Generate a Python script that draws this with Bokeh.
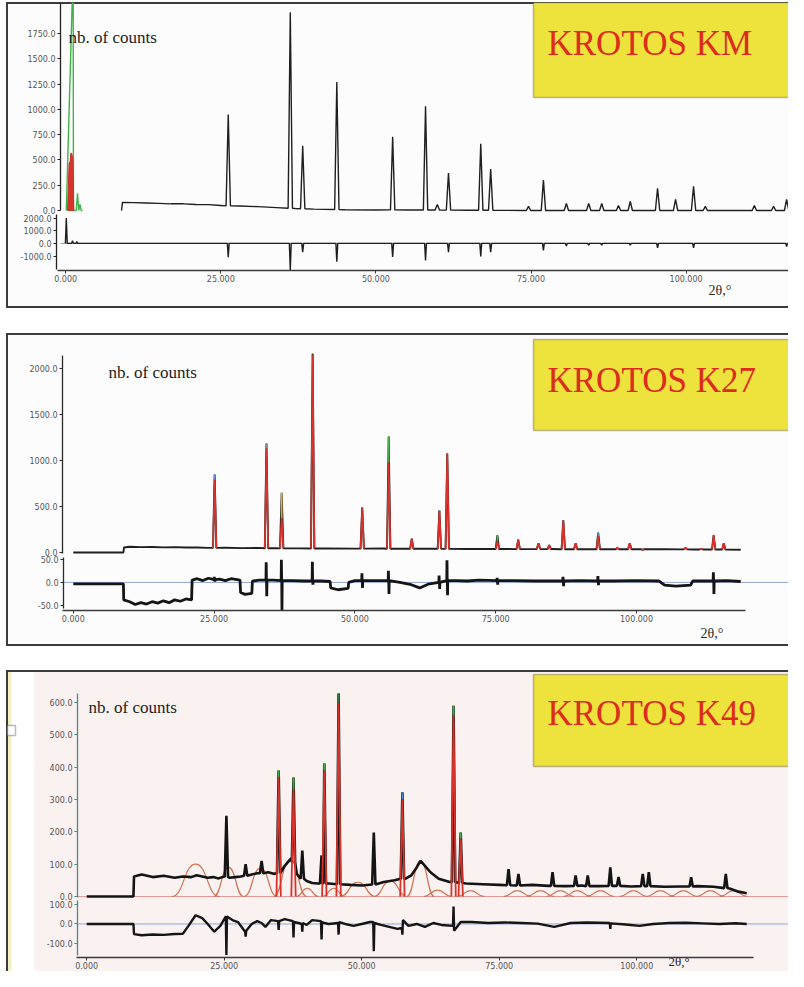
from bokeh.plotting import figure
from bokeh.models import (Range1d, FixedTicker, NumeralTickFormatter, LinearAxis,
                          Label, BoxAnnotation, Spacer)
from bokeh.layouts import column, row
from bokeh.embed import file_html
from bokeh.resources import INLINE

# ---------------- DATA ----------------
# Panel 1 : KROTOS KM
km_bg_2theta = [9.0, 9.15, 11, 13, 15, 17, 19, 21, 23, 25, 28, 31, 34, 37, 40, 45, 50, 55, 65, 75, 85, 95, 105, 112, 118]
km_bg_counts = [0, 80, 78, 74, 70, 66, 66, 60, 58, 50, 45, 38, 28, 20, 14, 8, 5, 5, 3, 0, 0, 0, 0, 0, 0]
km_peak_2theta = [26.2, 36.2, 38.2, 43.7, 52.7, 58.0, 59.9, 61.7, 66.9, 68.5, 74.6, 77.0, 80.7, 84.3,
                  86.4, 89.1, 91.0, 95.4, 98.3, 101.2, 103.1, 111.0, 114.1, 116.2]
km_peak_counts = [950, 1960, 640, 1270, 730, 1030, 60, 370, 660, 410, 40, 300, 70, 70,
                  70, 50, 90, 220, 110, 240, 40, 50, 40, 110]
km_peak_base = [46, 22, 18, 10, 6, 5, 5, 4, 3, 3, 0, 0, 0, 0,
                0, 0, 0, 0, 0, 0, 0, 0, 0, 0]
km_calc_2theta = [0.1, 1.2, 1.25, 1.7, 1.9, 2.1, 2.3, 2.5, 2.7]
km_calc_counts = [0, 2400, 0, 0, 170, 0, 60, 0, 0]
km_red_2theta = [0.3, 0.55, 0.7, 0.85, 1.0, 1.15, 1.3]
km_red_counts = [0, 470, 480, 570, 560, 500, 0]
km_res_base_2theta = [0.0, 118.0]
km_res_base_values = [0, 0]
km_res_2theta = [0.1, 1.1, 1.8, 26.2, 36.2, 38.2, 43.7, 52.7, 58.0, 61.7, 66.9, 68.5, 77.0, 80.7,
                 84.3, 86.4, 91.0, 95.4, 101.2, 116.2]
km_res_values = [2000, 200, 150, -1100, -2100, -700, -1450, -1080, -1350, -690, -1030, -690, -550, -200,
                 -150, -150, -150, -350, -350, -250]
km_yticks = [0, 250, 500, 750, 1000, 1250, 1500, 1750]
km_res_ticks = [2000, 1000, 0, -1000]

# Panel 2 : KROTOS K27
k27_bg_2theta = [0.0, 8.9, 9.0, 10, 12, 14, 16, 18, 20, 22, 24, 27, 30, 33, 36, 40, 45, 50, 55, 60,
                 65, 70, 75, 80, 85, 90, 95, 100, 105, 110, 115, 118.5]
k27_bg_counts = [0, 0, 55, 62, 58, 60, 56, 58, 54, 55, 50, 52, 48, 50, 46, 45, 44, 42, 43, 40,
                 41, 38, 39, 37, 38, 36, 37, 35, 36, 33, 32, 30]
k27_peak_2theta = [25.1, 34.3, 37.0, 42.5, 51.3, 56.0, 60.1, 65.0, 66.4, 75.3, 79.0, 82.6, 84.5,
                   87.0, 89.2, 93.2, 96.6, 98.8, 101.1, 108.7, 111.5, 113.7, 115.5]
k27_obs_counts = [848, 1185, 650, 2160, 490, 1260, 150, 455, 1075, 185, 140, 100, 80,
                  350, 100, 215, 50, 100, 30, 50, 40, 185, 100]
k27_calc_counts = [790, 1130, 370, 2150, 480, 980, 150, 450, 1070, 120, 140, 100, 80,
                   345, 100, 180, 50, 100, 30, 50, 40, 180, 100]
k27_peak_base = [50, 46, 45, 44, 42, 41, 40, 40, 39, 38, 37, 37, 37,
                 36, 36, 36, 36, 35, 35, 34, 33, 32, 31]
k27_res_level_2theta = [0, 8.9, 8.95, 10, 11, 12, 13, 14, 15, 16,
                        17, 18, 19, 20, 21.0, 21.1, 22, 23, 24, 26,
                        27, 28, 29.6, 29.7, 30.5, 31.7, 31.8, 33, 35.5, 39,
                        41, 44, 45.6, 45.7, 47, 48.8, 48.9, 50, 53, 58,
                        60, 61.5, 63, 68, 70, 72, 78, 82, 90, 96,
                        100, 104, 105, 107, 109.6, 110, 116, 118.5]
k27_res_level_values = [-3, -3, -38, -42, -48, -44, -47, -42, -45, -40,
                        -44, -38, -41, -36, -38, 5, 8, 4, 9, 7,
                        4, 8, 5, -22, -26, -24, 3, 5, 5, 4,
                        3, 3, 2, -12, -16, -13, 0, 4, 4, 0,
                        -5, -12, -4, 4, 3, 5, 4, 3, 4, 3,
                        4, 3, -6, -8, -6, 3, 4, 2]
k27_res_spike_2theta = [25.05, 25.15, 34.25, 34.35, 36.95, 37.05, 42.45, 42.55, 51.25, 51.35, 55.95, 56.05,
                        64.95, 65.05, 66.35, 66.45, 75.25, 75.35, 86.95, 87.05, 93.15, 93.25, 113.65, 113.75]
k27_res_spike_values = [12, 2, 44, -30, 49, -60, 45, -5, 20, -12, 25, -25,
                        15, -14, 48, -28, 10, -5, 12, -8, 14, -6, 22, -25]
k27_res_spike_base = [6, 6, 5, 5, 4, 4, 3, 3, 4, 4, 4, 4,
                      0, 0, 4, 4, 4, 4, 3, 3, 3, 3, 3, 3]
k27_yticks = [0, 500, 1000, 1500, 2000]
k27_res_ticks = [50, 0, -50]

# Panel 3 : KROTOS K49
k49_bg_2theta = [0, 8.5, 8.6, 10, 12, 14, 16, 17.5, 19, 20,
                 21, 22, 23, 24, 25, 26, 27, 28, 29, 30,
                 31, 32, 33, 34, 35, 36, 36.8, 37.3, 38.2, 39,
                 40, 41, 42, 44, 46, 48, 50, 52, 54, 56,
                 58, 59, 60, 60.7, 61.5, 62.5, 64, 66, 69, 72,
                 75, 78, 81, 84, 87, 90, 93, 96, 99, 102,
                 105, 108, 111, 114, 116, 117, 118.5, 120]
k49_bg_counts = [0, 0, 62, 68, 60, 64, 58, 62, 60, 66,
                 62, 58, 60, 56, 62, 58, 60, 62, 64, 68,
                 72, 70, 75, 70, 80, 95, 110, 120, 70, 55,
                 48, 42, 40, 40, 38, 36, 34, 38, 45, 50,
                 55, 65, 90, 110, 95, 75, 55, 45, 40, 38,
                 36, 34, 36, 33, 32, 34, 32, 33, 31, 34,
                 30, 31, 32, 30, 28, 24, 15, 10]
k49_peak_2theta = [25.4, 28.9, 31.8, 34.9, 37.6, 39.2, 42.7, 43.2, 45.8, 52.2, 57.4, 66.7,
                   68.0, 76.7, 78.5, 84.7, 88.9, 91.1, 95.2, 96.7, 101.1, 102.2, 109.9, 116.2]
k49_obs_counts = [250, 100, 110, 390, 368, 142, 127, 411, 628, 198, 322, 590,
                  198, 85, 70, 75, 65, 65, 90, 60, 70, 75, 60, 70]
k49_peak_base = [60, 64, 72, 72, 105, 55, 40, 40, 38, 37, 55, 45,
                 42, 35, 34, 33, 33, 32, 33, 33, 32, 32, 31, 26]
k49_calc_2theta = [34.9, 37.6, 43.2, 45.8, 57.4, 66.7, 68.0]
k49_calc_counts = [370, 330, 390, 600, 300, 560, 180]
k49_hump_2theta = [19.8, 25.8, 31.6, 37.0, 40.1, 44.9, 49.3, 55.2, 60.7, 63.8, 69.8,
                   78.3, 82.5, 86.1, 89.2, 93.4, 99.4, 104.3, 108.5, 113.4, 117.6]
k49_hump_counts = [100, 90, 88, 115, 25, 25, 44, 48, 110, 20, 18,
                   18, 18, 18, 18, 18, 18, 18, 18, 18, 18]
k49_hump_halfwidth = [4.3, 2.7, 3.0, 3.0, 2.0, 2.0, 3.2, 3.0, 2.5, 2.5, 2.5,
                      2.5, 2.5, 2.5, 2.5, 2.5, 2.5, 2.5, 2.5, 2.5, 2.5]
k49_res_2theta = [0, 8.5, 8.6, 10, 12, 14, 16, 17.5, 18.5, 19.8,
                  21, 22, 23.2, 24.3, 25.3, 25.4, 25.5, 26.5, 27.5, 28.8,
                  28.9, 29.0, 30, 31, 31.8, 32.5, 33.5, 34.8, 34.9, 35.0,
                  36, 37.5, 37.6, 37.7, 38.5, 39.1, 39.2, 39.3, 40, 41,
                  42.6, 42.7, 42.8, 43.2, 44, 45.7, 45.8, 45.9, 47, 48.5,
                  50, 51.5, 52.1, 52.2, 52.3, 53.5, 55, 56.5, 57.3, 57.4,
                  57.5, 58.5, 60, 61.5, 63, 64.5, 66.6, 66.7, 66.8, 68,
                  70, 73, 76, 79, 82, 85, 88, 91, 95.1, 95.2,
                  95.3, 98, 100.5, 103, 106, 109, 112, 115, 118, 120]
k49_res_values = [0, 0, -52, -58, -54, -56, -52, -50, -10, 45,
                  30, 0, -40, -10, 40, -160, 38, 20, 10, -40,
                  -65, -35, 0, 15, 5, -15, 20, 15, -30, 15,
                  25, 15, -70, 10, 5, 0, -40, 5, -5, 20,
                  15, -80, 10, 5, 0, 5, -55, 10, 0, -10,
                  0, 10, 10, -140, 5, -5, -15, -25, -20, -55,
                  20, -10, 0, -15, 5, -5, -10, 90, -35, 10,
                  10, 5, 8, 5, 2, -15, 5, 8, 5, -25,
                  3, -3, -10, 0, 5, 6, 3, 0, 4, 0]
k49_yticks = [0, 100, 200, 300, 400, 500, 600]
k49_res_ticks = [100, 0, -100]

x_ticks = [0, 25, 50, 75, 100]

# ---------------- STYLES ----------------
FIG_LEFT = 6
FIG_W = 782
RIGHT_EDGE = FIG_LEFT + FIG_W
SERIF = "Liberation Serif"
TICK_FONT = "DejaVu Sans"
BORDER3 = "inset 2px 2px 0 #3c3c3c, inset 0 -2px 0 #3c3c3c"
BORDER2 = "inset 2px 2px 0 #3c3c3c"


def build_profile(base_x, base_y, pk_x, pk_top, pk_base, hw):
    pts = [(x, y) for x, y in zip(base_x, base_y) if all(abs(x - c) > hw for c in pk_x)]
    for c, t, b in zip(pk_x, pk_top, pk_base):
        pts += [(c - hw, b), (c, t), (c + hw, b)]
    pts.sort(key=lambda q: q[0])
    return [q[0] for q in pts], [q[1] for q in pts]


def style_axis(ax, col):
    ax.axis_line_color = col
    ax.axis_line_width = 1.3
    ax.major_tick_line_color = col
    ax.major_tick_in = 0
    ax.major_tick_out = 3
    ax.minor_tick_in = 0
    ax.minor_tick_out = 0
    ax.major_label_text_font = TICK_FONT
    ax.major_label_text_font_size = "8px"
    ax.major_label_text_color = "#555555"
    ax.major_label_standoff = 2


def make_panel(cfg):
    top, H = cfg["fig_top"], cfg["height"]
    x0px, pxdeg, y0px, pxcnt = cfg["x0px"], cfg["pxdeg"], cfg["y0px"], cfg["pxcnt"]
    r0, k = cfg["r0"], cfg["k"]

    def gx(px):
        return (px - x0px) / pxdeg

    def gy(py):
        return (y0px - py) / pxcnt

    def gr(py):
        return (gy(py) - r0) / k

    xs, xe = gx(FIG_LEFT), gx(RIGHT_EDGE)
    ys, ye = gy(top + H), gy(top)
    p = figure(width=FIG_W, height=H, title=None,
               x_range=Range1d(xs, xe), y_range=Range1d(ys, ye),
               output_backend="svg", toolbar_location=None,
               min_border_left=0, min_border_right=0, min_border_top=0, min_border_bottom=0,
               background_fill_alpha=0, border_fill_alpha=0, outline_line_color=None,
               styles=cfg["styles"])
    p.extra_y_ranges = {"res": Range1d(gr(top + H), gr(top))}
    p.grid.visible = False

    # x axis (drawn at its place inside the panel)
    xa = p.xaxis[0]
    xa.fixed_location = gy(cfg["axis_y"])
    xa.ticker = FixedTicker(ticks=x_ticks)
    xa.formatter = NumeralTickFormatter(format="0.000")
    xa.bounds = (gx(cfg["xaxis_start"]), cfg["x_axis_end"])
    style_axis(xa, "#3a3a3a")
    xa.major_label_standoff = 1

    # counts axis
    ya = p.yaxis[0]
    ya.fixed_location = gx(cfg["yaxis_x"])
    ya.ticker = FixedTicker(ticks=cfg["yticks"])
    ya.formatter = NumeralTickFormatter(format="0.0")
    ya.bounds = (gy(cfg["yaxis_bottom"]), gy(cfg["yaxis_top"]))
    style_axis(ya, cfg["yaxis_color"])

    # difference axis
    ra = LinearAxis(y_range_name="res", fixed_location=gx(cfg["raxis_x"]),
                    ticker=FixedTicker(ticks=cfg["res_ticks"]),
                    formatter=NumeralTickFormatter(format="0.0"),
                    bounds=(gr(cfg["raxis_bottom"]), gr(cfg["raxis_top"])))
    style_axis(ra, cfg["yaxis_color"])
    p.add_layout(ra, "left")

    # zero line of the difference curve
    p.ray(x=[gx(cfg["yaxis_x"])], y=[0], length=0, angle=0, y_range_name="res",
          line_color=cfg["zero_color"], line_width=1, level="underlay")

    # yellow title box
    p.add_layout(BoxAnnotation(left=gx(533), right=xe + 20, bottom=gy(cfg["box_bottom"]),
                               top=gy(cfg["box_top"]), fill_color="#eee23c", fill_alpha=1,
                               line_color="#33332a", line_width=1.6))
    p.add_layout(Label(x=gx(547), y=gy(cfg["title_base"]), text=cfg["title"], text_font=SERIF,
                       text_font_size="35px", text_color="#dc2c1c", text_baseline="alphabetic"))
    p.add_layout(Label(x=gx(cfg["nb_x"]), y=gy(cfg["nb_base"]), text="nb. of counts",
                       text_font=SERIF, text_font_size="17px", text_color="#1e1e1e",
                       text_baseline="alphabetic"))
    p.add_layout(Label(x=gx(cfg["tt_x"]), y=gy(cfg["tt_base"]), text="2θ,°",
                       text_font=SERIF, text_font_size=cfg["tt_size"], text_color="#2a2a2a",
                       text_baseline="alphabetic"))
    return p, gx, gy


# ---------------- PANEL 1 ----------------
p1, gx1, gy1 = make_panel(dict(fig_top=2, height=306, axis_y=270, xaxis_start=57,
                               yaxis_x=60, yaxis_bottom=210, yaxis_top=2,
                               raxis_x=56, raxis_bottom=269, raxis_top=214,
                               x0px=65.2, pxdeg=6.204, y0px=210, pxcnt=0.10114, r0=-325, k=0.125,
                               yticks=km_yticks, res_ticks=km_res_ticks, x_axis_end=200,
                               yaxis_color="#222222", zero_color="#9a9a9a",
                               styles={"background-color": "#fdfcfc", "box-shadow": BORDER3},
                               box_top=2, box_bottom=97, title="KROTOS KM", title_base=43,
                               nb_x=68, nb_base=37, tt_x=708, tt_base=290, tt_size="14px"))
ox, oy = build_profile(km_bg_2theta, km_bg_counts, km_peak_2theta, km_peak_counts, km_peak_base, 0.35)
p1.line(ox, oy, line_color="#1f1f1f", line_width=1.4)
p1.line(km_calc_2theta, km_calc_counts, line_color="#3fb24a", line_width=1.4)
p1.patch(km_red_2theta, km_red_counts, fill_color="#d8352a", line_color="#c8302a", line_width=1)
rx, ry = build_profile(km_res_base_2theta, km_res_base_values, km_res_2theta, km_res_values,
                       [0] * len(km_res_2theta), 0.15)
p1.line(rx, ry, y_range_name="res", line_color="#1f1f1f", line_width=1.4)

# ---------------- PANEL 2 ----------------
p2, gx2, gy2 = make_panel(dict(fig_top=333, height=313, axis_y=610, xaxis_start=62,
                               yaxis_x=62, yaxis_bottom=553, yaxis_top=355,
                               raxis_x=63, raxis_bottom=608, raxis_top=557,
                               x0px=72.8, pxdeg=5.632, y0px=552, pxcnt=0.092, r0=-325, k=5,
                               yticks=k27_yticks, res_ticks=k27_res_ticks, x_axis_end=119.4,
                               yaxis_color="#2a2a2a", zero_color="#8ea6dc",
                               styles={"background-color": "#fdfcfc", "box-shadow": BORDER3},
                               box_top=339, box_bottom=430, title="KROTOS K27", title_base=380,
                               nb_x=108, nb_base=372, tt_x=700, tt_base=633, tt_size="14px"))
k27_tip_colors = ["#5b8fd2", "#8a8a8a", "#d8a640", "#444444", "#555555", "#45b04c", "#555555",
                  "#555555", "#555555", "#45b04c", "#555555", "#555555", "#555555", "#555555",
                  "#555555", "#5b8fd2", "#555555", "#d8a640", "#555555", "#555555", "#555555",
                  "#555555", "#555555"]
ox, oy = build_profile(k27_bg_2theta, k27_bg_counts, k27_peak_2theta, k27_obs_counts, k27_peak_base, 0.3)
p2.line(ox, oy, line_color="#1f1f1f", line_width=1.9)
p2.multi_line([[c - 0.3, c, c + 0.3] for c in k27_peak_2theta],
              [[b, t, b] for t, b in zip(k27_calc_counts, k27_peak_base)],
              line_color="#d8322a", line_width=1.7)
p2.segment(x0=k27_peak_2theta, y0=k27_calc_counts, x1=k27_peak_2theta, y1=k27_obs_counts,
           line_color=k27_tip_colors, line_width=1.7)
rx, ry = build_profile(k27_res_level_2theta, k27_res_level_values, k27_res_spike_2theta,
                       k27_res_spike_values, k27_res_spike_base, 0.04)
p2.line(rx, ry, y_range_name="res", line_color="#151515", line_width=2.8)

# ---------------- PANEL 3 ----------------
p3, gx3, gy3 = make_panel(dict(fig_top=670, height=301, axis_y=957, xaxis_start=76,
                               yaxis_x=77, yaxis_bottom=897, yaxis_top=693,
                               raxis_x=77, raxis_bottom=955, raxis_top=900,
                               x0px=86.2, pxdeg=5.5, y0px=896, pxcnt=0.3233, r0=-85, k=0.6,
                               yticks=k49_yticks, res_ticks=k49_res_ticks, x_axis_end=121.2,
                               yaxis_color="#4d8a80", zero_color="#8ea6dc",
                               styles={"background": "linear-gradient(to right, #f3efc4 0px, #f3efc4 5px, "
                                                     "#ffffff 6px, #ffffff 26px, #faf1f1 30px)",
                                       "box-shadow": BORDER2},
                               box_top=674, box_bottom=766, title="KROTOS K49", title_base=713,
                               nb_x=88, nb_base=707, tt_x=668, tt_base=961, tt_size="13px"))
# small marker square at the left border of the third panel
p3.add_layout(BoxAnnotation(left=gx3(7), right=gx3(15), top=gy3(725), bottom=gy3(735),
                            fill_color="#ffffff", fill_alpha=1, line_color="#202020", line_width=1.5))
p3.ray(x=[gx3(77)], y=[0], length=0, angle=0, line_color="#e59a9a", line_width=1, level="underlay")
c = k49_hump_2theta
h = k49_hump_counts
w = k49_hump_halfwidth
p3.bezier(x0=[a - b for a, b in zip(c, w)], y0=[0] * len(c), x1=c, y1=h,
          cx0=[a - b / 2 for a, b in zip(c, w)], cy0=[0] * len(c),
          cx1=[a - b / 2 for a, b in zip(c, w)], cy1=h, line_color="#cf7350", line_width=1.2)
p3.bezier(x0=[a + b for a, b in zip(c, w)], y0=[0] * len(c), x1=c, y1=h,
          cx0=[a + b / 2 for a, b in zip(c, w)], cy0=[0] * len(c),
          cx1=[a + b / 2 for a, b in zip(c, w)], cy1=h, line_color="#cf7350", line_width=1.2)
ox, oy = build_profile(k49_bg_2theta, k49_bg_counts, k49_peak_2theta, k49_obs_counts, k49_peak_base, 0.3)
p3.line(ox, oy, line_color="#141414", line_width=2.6)
p3.multi_line([[a - 0.4, a, a + 0.4] for a in k49_calc_2theta],
              [[0, t, 0] for t in k49_calc_counts], line_color="#d8322a", line_width=1.8)
k49_obs_at_calc = [k49_obs_counts[k49_peak_2theta.index(a)] for a in k49_calc_2theta]
k49_tip_colors = ["#3fae49", "#3fae49", "#3fae49", "#2f7f3a", "#4a86c8", "#3fae49", "#3fae49"]
p3.segment(x0=k49_calc_2theta, y0=k49_calc_counts, x1=k49_calc_2theta, y1=k49_obs_at_calc,
           line_color=k49_tip_colors, line_width=1.8)
p3.line(k49_res_2theta, k49_res_values, y_range_name="res", line_color="#151515", line_width=2.4)

layout = column(Spacer(width=RIGHT_EDGE, height=2),
                row(Spacer(width=FIG_LEFT, height=306), p1),
                Spacer(width=RIGHT_EDGE, height=25),
                row(Spacer(width=FIG_LEFT, height=313), p2),
                Spacer(width=RIGHT_EDGE, height=24),
                row(Spacer(width=FIG_LEFT, height=301), p3))

open("out.html", "w").write(file_html(layout, INLINE))
